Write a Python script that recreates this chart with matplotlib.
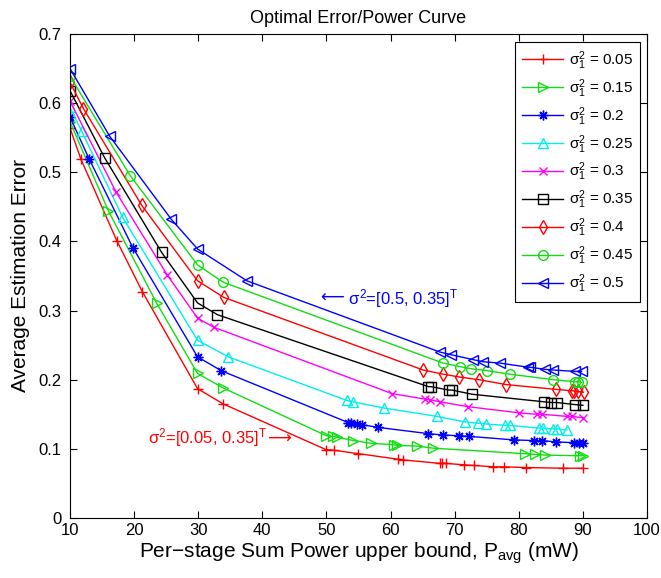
import matplotlib
matplotlib.use('Agg')
import matplotlib.pyplot as plt

plt.rcParams['font.family'] = ['Liberation Sans', 'DejaVu Sans']
plt.rcParams['mathtext.fontset'] = 'custom'
plt.rcParams['mathtext.rm'] = 'Liberation Sans'
plt.rcParams['mathtext.it'] = 'Liberation Sans:italic'

# data
x_005 = [10, 11.7, 17.3, 21.3, 29.9, 33.9, 49.9, 51.2, 55, 61.2, 62.0, 67.7, 68.1, 68.6, 71.4, 73.0, 76.0, 77.7, 81.1, 86.9, 90.0]
y_005 = [0.564, 0.519, 0.401, 0.327, 0.187, 0.165, 0.099, 0.098, 0.093, 0.085, 0.084, 0.079, 0.079, 0.079, 0.077, 0.076, 0.074, 0.074, 0.073, 0.072, 0.072]

x_015 = [10, 16.0, 23.5, 29.9, 33.9, 50.0, 51.0, 51.6, 54.2, 57.0, 60.5, 61.0, 64.2, 66.6, 81.0, 82.5, 84.1, 89.6, 90.0]
y_015 = [0.573, 0.444, 0.311, 0.209, 0.188, 0.119, 0.118, 0.117, 0.112, 0.108, 0.106, 0.105, 0.104, 0.101, 0.093, 0.092, 0.091, 0.090, 0.090]

x_020 = [10, 13.0, 19.8, 29.9, 33.6, 53.4, 53.9, 54.7, 55.5, 58.1, 65.9, 68.2, 70.6, 72.3, 79.2, 82.3, 83.6, 85.8, 88.6, 89.4, 90.0]
y_020 = [0.580, 0.519, 0.391, 0.233, 0.213, 0.138, 0.137, 0.136, 0.135, 0.131, 0.122, 0.120, 0.119, 0.118, 0.113, 0.112, 0.112, 0.110, 0.109, 0.109, 0.109]

x_025 = [10, 11.8, 18.2, 29.9, 34.7, 53.2, 54.1, 59.0, 67.2, 71.6, 73.7, 74.9, 77.9, 78.6, 83.1, 83.8, 85.3, 85.9, 87.5]
y_025 = [0.594, 0.560, 0.435, 0.257, 0.233, 0.170, 0.168, 0.159, 0.147, 0.139, 0.137, 0.136, 0.134, 0.134, 0.130, 0.130, 0.129, 0.129, 0.127]

x_030 = [10, 17.2, 25.2, 29.9, 32.4, 60.2, 65.3, 66.2, 67.7, 72.1, 80.1, 82.8, 83.6, 87.5, 88.3, 90.0]
y_030 = [0.603, 0.471, 0.351, 0.289, 0.276, 0.180, 0.172, 0.171, 0.168, 0.161, 0.152, 0.150, 0.150, 0.147, 0.147, 0.145]

x_035 = [10, 15.4, 24.3, 29.9, 33.0, 65.9, 66.3, 69.1, 69.6, 72.7, 84.0, 85.1, 85.9, 88.8, 90.0]
y_035 = [0.618, 0.521, 0.384, 0.311, 0.294, 0.190, 0.190, 0.185, 0.185, 0.179, 0.168, 0.167, 0.167, 0.164, 0.163]

x_040 = [10, 12.1, 21.2, 29.9, 34.0, 65.1, 68.2, 70.7, 73.8, 78.0, 85.8, 88.3, 88.6, 89.2, 90.1]
y_040 = [0.630, 0.592, 0.452, 0.343, 0.319, 0.214, 0.208, 0.204, 0.200, 0.193, 0.186, 0.184, 0.184, 0.183, 0.182]

x_045 = [10, 19.4, 29.9, 33.9, 68.2, 70.8, 72.5, 75.1, 78.6, 85.4, 88.8, 89.3, 89.8]
y_045 = [0.639, 0.495, 0.366, 0.341, 0.224, 0.219, 0.216, 0.213, 0.208, 0.200, 0.197, 0.197, 0.196]

x_050 = [10, 16.2, 25.8, 29.9, 37.6, 67.7, 69.5, 72.9, 74.4, 77.1, 81.5, 81.8, 84.1, 85.4, 88.8, 89.8]
y_050 = [0.650, 0.552, 0.432, 0.389, 0.343, 0.240, 0.236, 0.229, 0.226, 0.224, 0.218, 0.218, 0.215, 0.214, 0.212, 0.212]

sigmas = ['0.05', '0.15', '0.2', '0.25', '0.3', '0.35', '0.4', '0.45', '0.5']
xs = [x_005, x_015, x_020, x_025, x_030, x_035, x_040, x_045, x_050]
ys = [y_005, y_015, y_020, y_025, y_030, y_035, y_040, y_045, y_050]

red, green, blue = '#ff0000', '#11dd11', '#0000ff'
asterisk = (8, 2, 0)
styles = [(red, '+', 7), (green, '>', 7), (blue, asterisk, 7), ('#00eeee', '^', 7),
          ('#ff00ff', 'x', 6), ('black', 's', 6.5), (red, 'd', 7), (green, 'o', 7), (blue, '<', 7)]

fig = plt.figure(figsize=(6.61, 5.78), dpi=100)
ax = fig.add_axes([0.1059, 0.1038, 0.8729, 0.8374])

for x, y, s, (c, m, ms) in zip(xs, ys, sigmas, styles):
    ax.plot(x, y, color=c, marker=m, markersize=ms, markerfacecolor='none',
            markeredgecolor=c, linewidth=1, markeredgewidth=1,
            label=r'$\mathregular{σ_1^2}$ = ' + s)

# annotations: long arrows are plain text in DejaVu Sans, chained to the label text
arr_l = ax.text(49.0, 0.318, '\u27f5', color=blue, fontsize=12, va='center', ha='left',
                family='DejaVu Sans')
ax.annotate(r' $\mathregular{σ^2}$=[0.5, 0.35]$\mathregular{^T}$', xy=(1, 0.5), xycoords=arr_l,
            color=blue, fontsize=12, va='center', ha='left')
lab_r = ax.text(22.2, 0.116, r'$\mathregular{σ^2}$=[0.05, 0.35]$\mathregular{^T}$',
                color=red, fontsize=12, va='center', ha='left')
ax.annotate('\u27f6', xy=(1, 0.45), xycoords=lab_r, color=red, fontsize=12,
            va='center', ha='left', family='DejaVu Sans')

ax.set_xlim(10, 100)
ax.set_ylim(0, 0.7)
ax.set_xticks(range(10, 101, 10))
ax.set_yticks([0, 0.1, 0.2, 0.3, 0.4, 0.5, 0.6, 0.7])
ax.set_yticklabels(['0', '0.1', '0.2', '0.3', '0.4', '0.5', '0.6', '0.7'])
ax.tick_params(direction='in', top=True, right=True, labelsize=12, length=5)
ax.tick_params(axis='y', pad=6)
for sp in ax.spines.values():
    sp.set_linewidth(0.8)

ax.set_xlabel(r'Per$-$stage Sum Power upper bound, $\mathregular{P_{avg}}$ (mW)', fontsize=15, labelpad=2)
ax.set_ylabel('Average Estimation Error', fontsize=15, labelpad=6)
ax.set_title('Optimal Error/Power Curve', fontsize=13, pad=8)

leg = ax.legend(loc='upper right', bbox_to_anchor=(0.988, 0.983), fontsize=11,
                handlelength=2.7, handletextpad=0.35, labelspacing=0.35,
                fancybox=False, edgecolor='black', framealpha=1, borderpad=0.45,
                borderaxespad=0)
leg.get_frame().set_linewidth(0.8)

fig.savefig('out.png', dpi=100)
